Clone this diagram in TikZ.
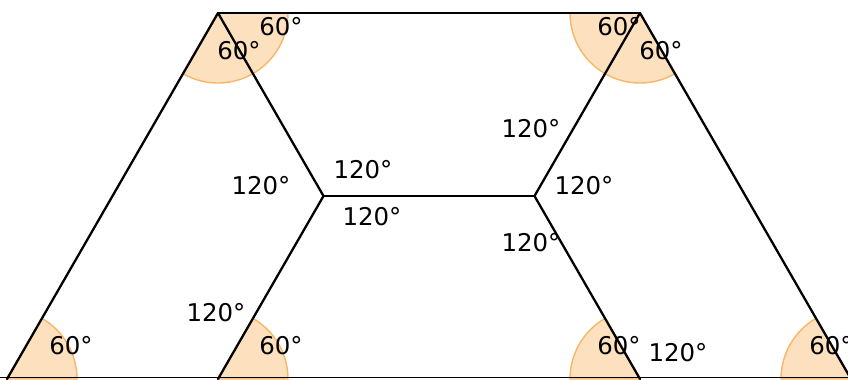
\documentclass[tikz,border=0pt]{standalone}
\usepackage{fontspec}
\setmainfont{DejaVu Sans}
\usetikzlibrary{calc}

\definecolor{wedgefill}{RGB}{253,225,190}
\definecolor{wedgeedge}{RGB}{248,182,105}
\definecolor{baseline}{RGB}{215,215,215}

\tikzset{
  wedge/.style={fill=wedgefill,draw=wedgeedge,line width=0.8pt},
  edge/.style={line width=1.3pt,line cap=round},
  angle/.style={inner sep=0pt,font=\fontsize{13.9}{16}\selectfont}
}

\begin{document}
\begin{tikzpicture}
\useasboundingbox (0,0) rectangle (16.96,7.58);
% ---------- vertices ----------
\coordinate (tl) at (4.36,7.32);
\coordinate (tr) at (12.80,7.32);
\coordinate (cl) at (6.47,3.66);
\coordinate (cr) at (10.69,3.66);
\coordinate (b1) at (0.14,0);
\coordinate (b2) at (4.36,0);
\coordinate (b3) at (12.80,0);
\coordinate (b4) at (17.02,0);
\coordinate (g0) at (0,0.03);
\coordinate (g1) at (16.96,0.03);
% ---------- 60 degree wedges ----------
\filldraw[wedge] (tl) -- ++(240:1.4) arc[start angle=240,end angle=360,radius=1.4] -- cycle;
\filldraw[wedge] (tr) -- ++(180:1.4) arc[start angle=180,end angle=300,radius=1.4] -- cycle;
\filldraw[wedge] (b1) -- ++(0:1.4) arc[start angle=0,end angle=60,radius=1.4] -- cycle;
\filldraw[wedge] (b2) -- ++(0:1.4) arc[start angle=0,end angle=60,radius=1.4] -- cycle;
\filldraw[wedge] (b3) -- ++(120:1.4) arc[start angle=120,end angle=180,radius=1.4] -- cycle;
\filldraw[wedge] (b4) -- ++(120:1.4) arc[start angle=120,end angle=180,radius=1.4] -- cycle;
% ---------- ground line ----------
\draw[baseline,line width=0.6pt] (g0) -- (g1);
% ---------- edges ----------
\draw[edge] (tl) -- (tr);
\draw[edge] (tl) -- (b1);
\draw[edge] (tl) -- (cl);
\draw[edge] (cl) -- (b2);
\draw[edge] (cl) -- (cr);
\draw[edge] (cr) -- (tr);
\draw[edge] (cr) -- (b3);
\draw[edge] (tr) -- (b4);
% ---------- angle labels ----------
\node[angle] (atl1) at (5.62,7.04) {60°};
\node[angle] (atl2) at (4.78,6.56) {60°};
\node[angle] (atr1) at (12.38,7.04) {60°};
\node[angle] (atr2) at (13.22,6.56) {60°};
\node[angle] (ab1) at (1.42,0.66) {60°};
\node[angle] (ab2) at (5.62,0.66) {60°};
\node[angle] (ab2o) at (4.32,1.32) {120°};
\node[angle] (ab3) at (12.38,0.66) {60°};
\node[angle] (ab3o) at (13.56,0.52) {120°};
\node[angle] (ab4) at (16.62,0.66) {60°};
\node[angle] (acl1) at (5.22,3.86) {120°};
\node[angle] (acl2) at (7.26,4.18) {120°};
\node[angle] (acl3) at (7.44,3.24) {120°};
\node[angle] (acr1) at (10.62,5.00) {120°};
\node[angle] (acr2) at (11.68,3.86) {120°};
\node[angle] (acr3) at (10.62,2.72) {120°};
\end{tikzpicture}
\end{document}
